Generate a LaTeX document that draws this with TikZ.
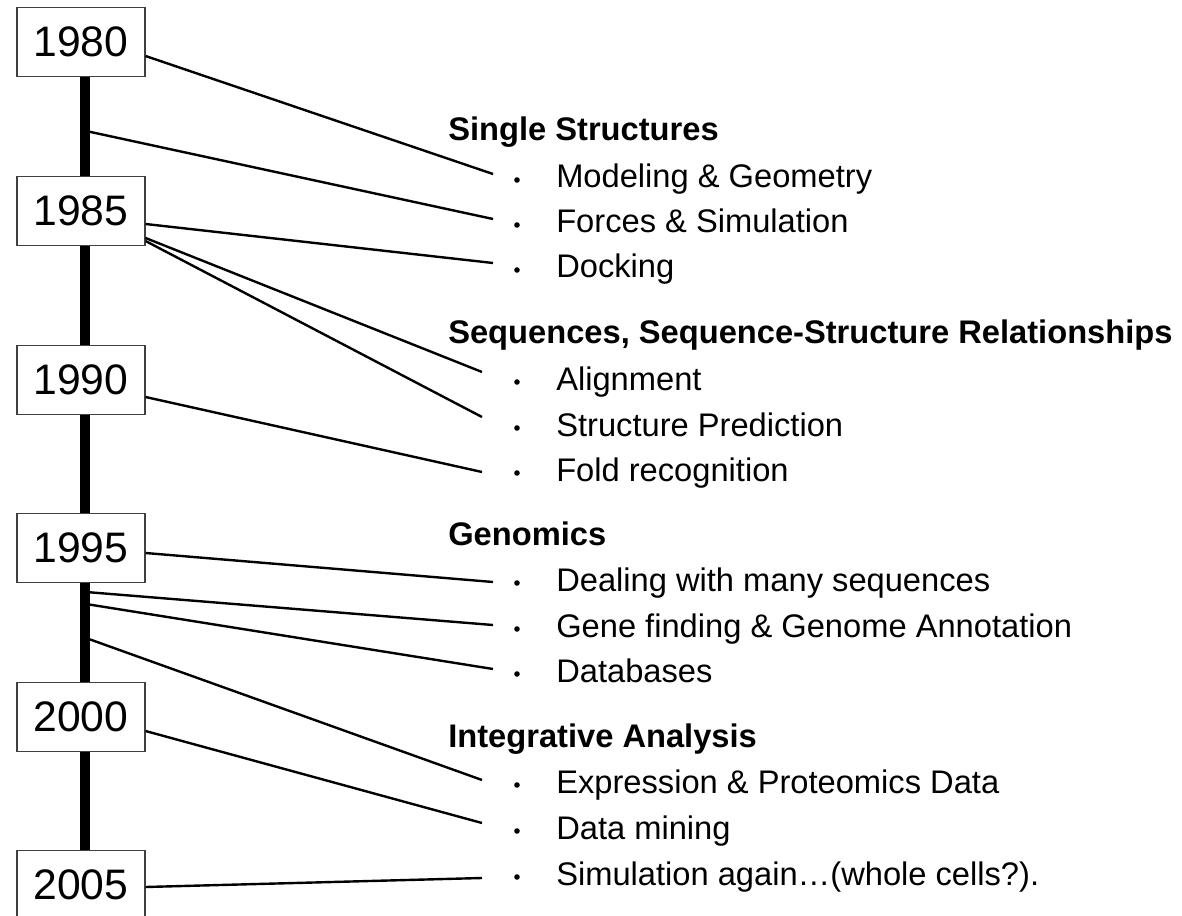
\documentclass[tikz,border=0pt]{standalone}
\usepackage{fontspec}
\setmainfont{Liberation Sans}
\usetikzlibrary{calc}
\tikzset{ year_box/.style = {rectangle, draw=black!75, line width=0.8pt, fill=white, minimum width=96pt, minimum height=51.75pt, inner sep=0pt, font=\fontsize{32}{36}\selectfont} }
\tikzset{ head_text/.style = {anchor=base west, inner sep=0pt, font=\fontsize{24.5}{28}\selectfont\bfseries} }
\tikzset{ item_text/.style = {anchor=base west, inner sep=0pt, font=\fontsize{24.5}{28}\selectfont} }
\tikzset{ dot/.style = {circle, fill, inner sep=0pt, minimum size=4.2pt} }
\tikzset{ spine/.style = {line width=7.5pt} }
\tikzset{ link/.style = {line width=1.8pt} }

\begin{document}
\begin{tikzpicture}[x=0.75pt,y=-0.75pt]
            \useasboundingbox (0,0) rectangle (1182,916);
            % years
            \node [style=year_box] (y1980) at (81,42) {1980};
            \node [style=year_box] (y1985) at (81,211) {1985};
            \node [style=year_box] (y1990) at (81,380) {1990};
            \node [style=year_box] (y1995) at (81,548) {1995};
            \node [style=year_box] (y2000) at (81,717) {2000};
            \node [style=year_box] (y2005) at (81,885) {2005};
            \foreach \a/\b in {1980/1985,1985/1990,1990/1995,1995/2000,2000/2005}
              \draw [style=spine] ([xshift=3pt]y\a.south) -- ([xshift=3pt]y\b.north);
            % topics
            \node [style=head_text] (single) at (448,141) {Single Structures};
            \node [style=head_text] (seq) at (448,344) {Sequences, Sequence-Structure Relationships};
            \node [style=head_text] (genom) at (448,545) {Genomics};
            \node [style=head_text] (integ) at (448,747) {Integrative Analysis};
            \foreach \n/\y/\t in {1/180/{Modeling \& Geometry}, 2/225/{Forces \& Simulation}, 3/270/{Docking},
                                  4/382/{Alignment}, 5/428/{Structure Prediction}, 6/473/{Fold recognition},
                                  7/583/{Dealing with many sequences}, 8/629/{Gene finding \& Genome Annotation}, 9/674/{Databases},
                                  10/785/{Expression \& Proteomics Data}, 11/831/{Data mining}, 12/877/{Simulation again…(whole cells?).}}{
              \node [style=dot] (b\n) at (517,\y) {};
              \node [style=item_text] (i\n) at (556,\y+8) {\t};
            }
            % points on the time line
            \coordinate (s1) at (86,131);
            \coordinate (s2) at (86,592);
            \coordinate (s3) at (86,604);
            \coordinate (s4) at (86,638);
            % links
            \draw [style=link] ($(y1980.east)+(0,14)$) -- ($(b1)+(-24,-6)$);
            \draw [style=link] (s1) -- ($(b2)+(-24,-6)$);
            \draw [style=link] ($(y1985.east)+(0,13)$) -- ($(b3)+(-24,-7)$);
            \draw [style=link] ($(y1985.east)+(0,27)$) -- ($(b4)+(-35,-10)$);
            \draw [style=link] ($(y1985.east)+(0,30)$) -- ($(b5)+(-35,-11)$);
            \draw [style=link] ($(y1990.east)+(0,17)$) -- ($(b6)+(-35,-1)$);
            \draw [style=link] ($(y1995.east)+(0,5)$) -- ($(b7)+(-24,-1)$);
            \draw [style=link] (s2) -- ($(b8)+(-24,-4)$);
            \draw [style=link] (s3) -- ($(b9)+(-24,-5)$);
            \draw [style=link] (s4) -- ($(b10)+(-35,-5)$);
            \draw [style=link] ($(y2000.east)+(0,14)$) -- ($(b11)+(-35,-8)$);
            \draw [style=link] ($(y2005.east)+(0,2)$) -- ($(b12)+(-35,1)$);
\end{tikzpicture}
\end{document}
